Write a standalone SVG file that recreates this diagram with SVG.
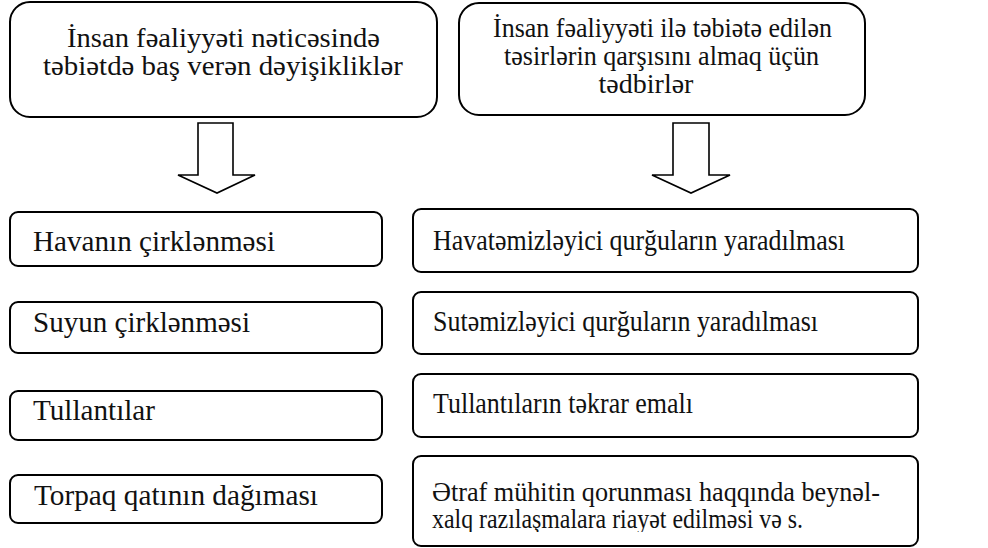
<svg xmlns="http://www.w3.org/2000/svg" width="988" height="548" viewBox="0 0 988 548">
<style>
.box{fill:#fff;stroke:#000;stroke-width:2}
.arr{fill:#fff;stroke:#000;stroke-width:1.6;stroke-linejoin:miter}
.c{text-anchor:middle}
</style>
<defs>
<clipPath id="clip4"><rect x="413" y="456" width="505" height="76"/></clipPath>
</defs>
<rect width="988" height="548" fill="#fff"/>
<g font-family="'Liberation Serif', 'Times New Roman', serif" font-size="29" fill="#111">
<g id="head-left" font-size="28">
<rect class="box" x="10" y="2" width="427" height="115" rx="20"/>
<text class="c" x="223.5" y="47" textLength="313" lengthAdjust="spacingAndGlyphs">İnsan fəaliyyəti nəticəsində</text>
<text class="c" x="223" y="75" textLength="360" lengthAdjust="spacingAndGlyphs">təbiətdə baş verən dəyişikliklər</text>
</g>
<g id="head-right" font-size="28">
<rect class="box" x="459" y="3" width="406" height="112" rx="20"/>
<text class="c" x="662.5" y="37" textLength="339" lengthAdjust="spacingAndGlyphs">İnsan fəaliyyəti ilə təbiətə edilən</text>
<text class="c" x="661.5" y="65" textLength="315" lengthAdjust="spacingAndGlyphs">təsirlərin qarşısını almaq üçün</text>
<text class="c" x="646" y="93">tədbirlər</text>
</g>
<g id="connectors">
<path class="arr" d="M198,123 H233 V175 H255 L217,193 L178,175 H198 Z"/>
<path class="arr" d="M673,123 H709 V175 H730 L691,193 L652,175 H673 Z"/>
</g>
<g id="l1"><rect class="box" x="10" y="212" width="372" height="54" rx="8"/><text x="33" y="251" textLength="242" lengthAdjust="spacingAndGlyphs">Havanın çirklənməsi</text></g>
<g id="l2"><rect class="box" x="10" y="302" width="372" height="51" rx="8"/><text x="33" y="332" textLength="217" lengthAdjust="spacingAndGlyphs">Suyun çirklənməsi</text></g>
<g id="l3"><rect class="box" x="10" y="391" width="372" height="49" rx="8"/><text x="33" y="420" textLength="122" lengthAdjust="spacingAndGlyphs">Tullantılar</text></g>
<g id="l4"><rect class="box" x="10" y="475" width="372" height="48" rx="8"/><text x="34" y="505" textLength="284" lengthAdjust="spacingAndGlyphs">Torpaq qatının dağıması</text></g>
<g id="r1"><rect class="box" x="413" y="209" width="505" height="63" rx="8"/><text x="433" y="250" textLength="412" lengthAdjust="spacingAndGlyphs">Havatəmizləyici qurğuların yaradılması</text></g>
<g id="r2"><rect class="box" x="413" y="292" width="505" height="62" rx="8"/><text x="433" y="331" textLength="385" lengthAdjust="spacingAndGlyphs">Sutəmizləyici qurğuların yaradılması</text></g>
<g id="r3"><rect class="box" x="413" y="374" width="505" height="63" rx="8"/><text x="433" y="413" textLength="260" lengthAdjust="spacingAndGlyphs">Tullantıların təkrar emalı</text></g>
<g id="r4" font-size="28"><rect class="box" x="413" y="456" width="505" height="90" rx="8"/>
<g clip-path="url(#clip4)">
<text x="432" y="501" textLength="448" lengthAdjust="spacingAndGlyphs">Ətraf mühitin qorunması haqqında beynəl-</text>
<text x="432" y="528" textLength="371" lengthAdjust="spacingAndGlyphs">xalq razılaşmalara riayət edilməsi və s.</text>
</g></g>
</g>
</svg>
